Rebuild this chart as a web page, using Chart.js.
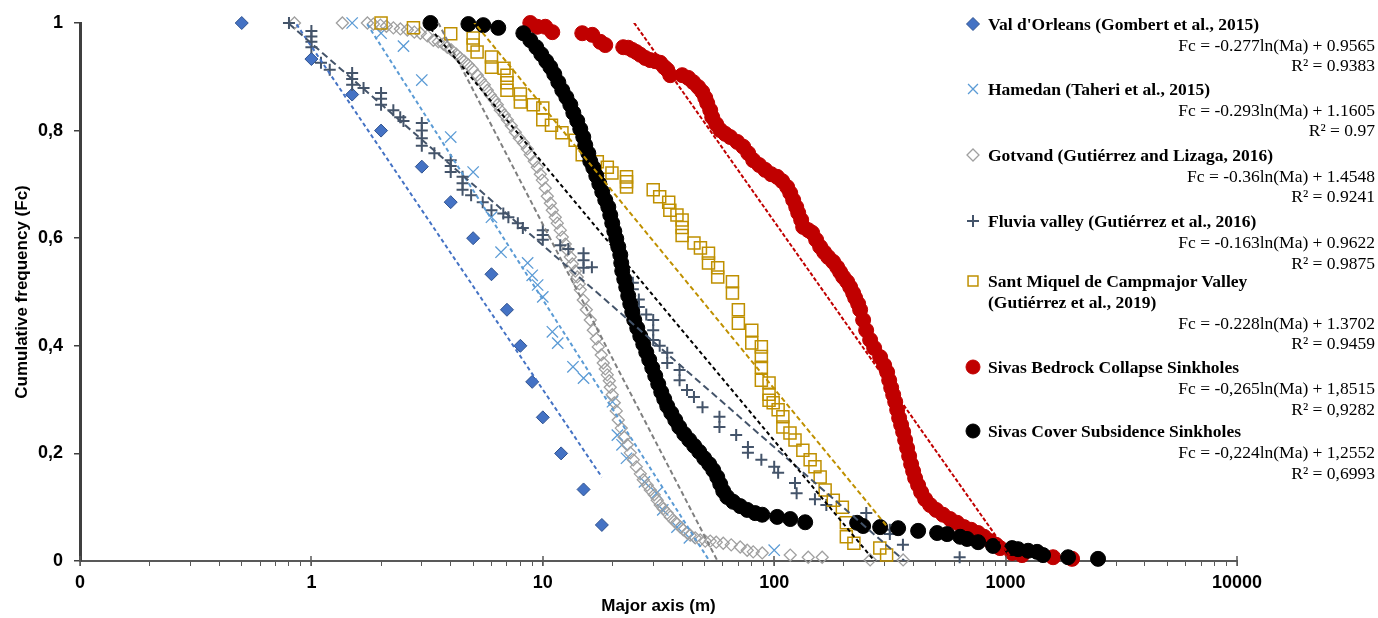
<!DOCTYPE html>
<html>
<head>
<meta charset="utf-8">
<script src="https://cdn.jsdelivr.net/npm/chart.js@4.4.1/dist/chart.umd.min.js"></script>
<style>
  body { margin: 0; background: #fff; }
  #wrap { position: relative; width: 1378px; height: 618px; }
  #legend div { position: absolute; font-family: 'Liberation Serif', 'Times New Roman', serif; font-size: 17.5px; line-height: 20px; color: #000; white-space: nowrap; }
  #legend .t { font-weight: bold; left: 988px; }
  #legend .e { right: 3px; text-align: right; }
</style>
</head>
<body>
<div id="wrap">
  <canvas id="chart"></canvas>
  <div id="legend"></div>
</div>
<script>
// ---- data: major axis (m) vs cumulative frequency ----
const valX = [0.5, 1, 1.5, 2, 3, 4, 5, 6, 7, 8, 9, 10, 12, 15, 18];
const valY = [1, 0.933, 0.867, 0.8, 0.733, 0.667, 0.6, 0.533, 0.467, 0.4, 0.333, 0.267, 0.2, 0.133, 0.067];

const hamX = [1.5, 2.0, 2.5, 3.0, 4.0, 5.0, 6.0, 6.6, 8.6, 9.0, 9.5, 10, 11, 11.6, 13.5, 15, 20, 21, 22, 23, 27.5, 31, 33, 38, 43, 100];
const hamY = [1.0, 0.981, 0.957, 0.894, 0.788, 0.723, 0.639, 0.574, 0.554, 0.531, 0.513, 0.491, 0.426, 0.405, 0.361, 0.340, 0.296, 0.234, 0.216, 0.191, 0.147, 0.126, 0.095, 0.063, 0.043, 0.020];

const gotX = [0.845, 1.361, 1.746, 1.853, 1.987, 2.109, 2.261, 2.424, 2.598, 2.786,
  2.957, 3.170, 3.365, 3.537, 3.717, 3.868, 4.025, 4.230, 4.402, 4.581,
  4.77, 4.961, 5.213, 5.370, 5.588, 5.758, 5.933, 6.173, 6.360, 6.553,
  6.820, 7.026, 7.311, 7.607, 7.915, 8.24, 8.573, 8.83, 9.191, 9.47,
  9.755, 9.95, 10.25, 10.46, 10.78, 10.99, 11.32, 11.55, 11.90, 12.14,
  12.51, 12.76, 13.15, 13.41, 13.82, 14.09, 14.38, 14.52, 14.96, 15.42,
  16.04, 16.53, 17.03, 17.37, 17.89, 18.25, 18.62, 18.99, 19.38, 19.57,
  19.96, 20.37, 20.77, 21.19, 21.83, 22.49, 23.17, 23.88, 24.60, 25.35,
  26.38, 27.18, 28.28, 29.14, 30.31, 31.23, 32.18, 33.15, 34.49, 35.54,
  36.99, 38.11, 39.26, 40.46, 42.09, 43.37, 45.58, 47.90, 50.35, 52.91,
  56.17, 60.23, 65.20, 71.31, 76.43, 81.15, 88.77, 117.3, 140.3, 161.2,
  259.8, 360.8];
const gotY = [1, 1, 1, 0.998, 0.996, 0.994, 0.991, 0.989, 0.987, 0.983,
  0.981, 0.976, 0.968, 0.965, 0.961, 0.955, 0.950, 0.942, 0.935, 0.929,
  0.922, 0.914, 0.903, 0.894, 0.885, 0.875, 0.866, 0.857, 0.848, 0.838,
  0.829, 0.820, 0.809, 0.797, 0.786, 0.777, 0.766, 0.755, 0.743, 0.732,
  0.719, 0.708, 0.693, 0.678, 0.665, 0.652, 0.639, 0.628, 0.615, 0.602,
  0.589, 0.578, 0.565, 0.552, 0.539, 0.528, 0.515, 0.504, 0.485, 0.467,
  0.448, 0.429, 0.413, 0.398, 0.383, 0.368, 0.357, 0.346, 0.335, 0.323,
  0.309, 0.294, 0.279, 0.262, 0.247, 0.230, 0.216, 0.201, 0.188, 0.175,
  0.162, 0.151, 0.141, 0.132, 0.123, 0.113, 0.104, 0.097, 0.089, 0.082,
  0.074, 0.069, 0.063, 0.058, 0.052, 0.048, 0.043, 0.039, 0.037, 0.037,
  0.035, 0.033, 0.030, 0.026, 0.020, 0.017, 0.015, 0.011, 0.007, 0.007,
  0.002, 0.002];

const fluX = [0.8, 1, 1, 1, 1, 1.1, 1.2, 1.5, 1.5, 1.5, 1.68, 2, 2, 2, 2.26, 2.42, 2.5, 3, 3, 3, 3, 3.4,
  4, 4, 4, 4.5, 4.5, 4.5, 4.9, 5.5, 6.0, 6.75, 7.1, 7.8, 8.2, 10, 10, 10, 11.9, 12.9, 15, 15, 15, 16.3,
  24.5, 24.5, 26, 26, 28, 30, 30, 30, 32, 34.5, 34.5, 39, 39, 42, 45, 49, 58, 58, 68.5, 77, 77, 88,
  100, 104, 123, 125, 150, 168, 250, 316, 316, 360, 633];
const fluY = [1.0, 0.985, 0.975, 0.965, 0.955, 0.926, 0.913, 0.907, 0.896, 0.885, 0.879, 0.870, 0.859, 0.848, 0.838, 0.825, 0.818, 0.814, 0.800, 0.786, 0.772, 0.758,
  0.745, 0.734, 0.723, 0.714, 0.702, 0.690, 0.680, 0.667, 0.652, 0.646, 0.639, 0.628, 0.619, 0.615, 0.606, 0.597, 0.587, 0.580, 0.572, 0.559, 0.545, 0.546,
  0.517, 0.505, 0.486, 0.472, 0.458, 0.448, 0.429, 0.411, 0.400, 0.387, 0.368, 0.355, 0.336, 0.318, 0.305, 0.286, 0.268, 0.249, 0.234, 0.212, 0.201, 0.188,
  0.175, 0.164, 0.145, 0.126, 0.115, 0.104, 0.089, 0.058, 0.050, 0.030, 0.007];

const smqX = [2.0, 2.76, 4.0, 5.0, 5.0, 5.2, 6.0, 6.0, 6.8, 7.0, 7.0, 7.0, 8.0, 8.0, 9.1, 10, 10, 10.9, 12.1, 13.8,
  14.8, 17.2, 19, 19.9, 23, 23, 23, 30, 32, 35, 35.4, 38, 40, 40, 40, 45, 48, 52, 52, 57, 57, 66, 66, 70, 70,
  80, 80, 88, 88, 88, 88, 95, 95, 95, 99, 104, 109, 109, 117, 123, 133, 143, 150, 158, 166, 180, 197, 205, 205, 221, 286, 306];
const smqY = [1.0, 0.991, 0.980, 0.972, 0.959, 0.946, 0.937, 0.918, 0.916, 0.903, 0.889, 0.875, 0.868, 0.853, 0.848, 0.842, 0.820, 0.810, 0.796, 0.782,
  0.755, 0.742, 0.732, 0.721, 0.714, 0.705, 0.695, 0.690, 0.677, 0.667, 0.652, 0.643, 0.634, 0.620, 0.605, 0.591, 0.582, 0.572, 0.554, 0.545, 0.528, 0.519, 0.498, 0.467, 0.442,
  0.429, 0.405, 0.398, 0.380, 0.360, 0.336, 0.331, 0.310, 0.299, 0.294, 0.281, 0.268, 0.249, 0.238, 0.225, 0.206, 0.188, 0.175, 0.156, 0.132, 0.113, 0.100, 0.071, 0.045, 0.033, 0.024, 0.011];

const bedX = [8.83, 9.47, 10.25, 10.99, 14.81, 16.36, 17.72, 18.62, 22.27, 23.40, 24.36, 25.35, 26.38, 27.72, 29.14, 30.62, 32.18, 33.48, 34.49, 35.54,
  40.06, 42.51, 44.68, 46.96, 48.87, 50.35, 51.36, 52.91, 53.98, 56.17, 58.46, 61.42, 64.55, 69.22, 73.47, 77.22, 81.15, 86.14, 91.44, 97.05,
  103.0, 108.3, 113.8, 117.3, 120.8, 124.5, 127.0, 130.8, 133.4, 140.3, 145.9, 151.8, 158.0, 164.4, 171.1, 179.8, 187.2, 192.8, 198.7, 206.7,
  213.0, 219.4, 223.8, 230.6, 235.2, 242.3, 249.7, 259.8, 270.4, 287.0, 298.7, 307.7, 314.0, 320.3, 326.7, 333.3, 340.0, 346.7, 353.7, 360.8,
  368.0, 375.4, 383.0, 390.6, 398.5, 406.5, 418.8, 431.5, 449.1, 471.9, 501.1, 537.0, 575.8, 617.3, 661.9, 709.6, 760.7, 807.5, 857.3, 910.0,
  946.7, 1067, 1178, 1604, 1938];
const bedY = [1.000, 0.993, 0.993, 0.983, 0.981, 0.978, 0.965, 0.959, 0.955, 0.954, 0.950, 0.946, 0.941, 0.935, 0.931, 0.929, 0.926, 0.918, 0.913, 0.903,
  0.903, 0.898, 0.890, 0.881, 0.872, 0.861, 0.851, 0.838, 0.825, 0.812, 0.801, 0.794, 0.788, 0.779, 0.770, 0.758, 0.745, 0.736, 0.727, 0.719,
  0.714, 0.706, 0.695, 0.684, 0.671, 0.658, 0.647, 0.634, 0.621, 0.615, 0.610, 0.597, 0.584, 0.574, 0.565, 0.556, 0.546, 0.537, 0.528, 0.519,
  0.509, 0.498, 0.489, 0.478, 0.467, 0.448, 0.429, 0.411, 0.396, 0.379, 0.364, 0.351, 0.336, 0.322, 0.309, 0.296, 0.281, 0.266, 0.253, 0.240,
  0.225, 0.210, 0.195, 0.180, 0.167, 0.154, 0.141, 0.128, 0.115, 0.104, 0.095, 0.086, 0.078, 0.071, 0.063, 0.058, 0.052, 0.045, 0.037, 0.030,
  0.024, 0.015, 0.011, 0.007, 0.004];

const covX = [3.27, 4.77, 5.53, 6.42, 8.24, 8.83, 9.37, 9.85, 10.35, 10.78, 11.21, 11.67, 12.14, 12.64,
  13.15, 13.55, 14.09, 14.52, 14.96, 15.26, 15.73, 16.04, 16.53, 17.03, 17.55, 18.07, 18.62, 19.19, 19.57, 19.96, 20.37, 20.77, 21.19, 21.62,
  21.83, 22.05, 22.49, 22.94, 23.40, 23.88, 24.36, 24.85, 25.60, 26.38, 27.18, 28.00, 28.84, 29.72, 30.62, 31.54, 32.50, 33.48, 34.49, 35.91,
  37.37, 38.88, 40.86, 42.94, 45.11, 47.43, 49.84, 52.39, 54.51, 56.74, 58.46, 60.23, 62.66, 66.52, 71.31, 76.43, 82.77, 88.77,
  103.0, 117.3, 136.1, 228.3, 242.3, 287.0, 343.2, 418.8, 506.0, 558.8, 636.1, 681.7, 760.7, 883.1, 1067, 1132, 1251, 1368, 1452, 1862, 2509];
const covY = [1.000, 0.998, 0.996, 0.991, 0.981, 0.968, 0.955, 0.942, 0.929, 0.918, 0.905, 0.890, 0.875, 0.862,
  0.848, 0.833, 0.818, 0.803, 0.788, 0.773, 0.758, 0.743, 0.731, 0.716, 0.701, 0.686, 0.671, 0.658, 0.643, 0.628, 0.613, 0.599, 0.584, 0.569,
  0.554, 0.539, 0.524, 0.509, 0.493, 0.478, 0.463, 0.448, 0.433, 0.418, 0.403, 0.388, 0.374, 0.359, 0.344, 0.329, 0.314, 0.301, 0.288, 0.275,
  0.262, 0.249, 0.236, 0.225, 0.214, 0.203, 0.191, 0.180, 0.169, 0.156, 0.143, 0.130, 0.119, 0.110, 0.102, 0.095, 0.089, 0.086,
  0.082, 0.078, 0.072, 0.071, 0.065, 0.063, 0.061, 0.056, 0.052, 0.050, 0.045, 0.041, 0.035, 0.028, 0.024, 0.022, 0.019, 0.017, 0.011, 0.007, 0.004];

// trendline coefficients as printed: Fc = a ln(Ma) + b
const trendA = [-0.277, -0.293, -0.36, -0.163, -0.228, -0.265, -0.224];
const trendB = [0.9565, 1.1605, 1.4548, 0.9622, 1.3702, 1.8515, 1.2552];

const legendNames = ["Val d'Orleans (Gombert et al., 2015)", "Hamedan (Taheri et al., 2015)",
  "Gotvand (Gutiérrez and Lizaga, 2016)", "Fluvia valley (Gutiérrez et al., 2016)",
  "Sant Miquel de Campmajor Valley|(Gutiérrez et al., 2019)", "Sivas Bedrock Collapse Sinkholes",
  "Sivas Cover Subsidence Sinkholes"];
const legendEqs = ["Fc = -0.277ln(Ma) + 0.9565", "Fc = -0.293ln(Ma) + 1.1605", "Fc = -0.36ln(Ma) + 1.4548",
  "Fc = -0.163ln(Ma) + 0.9622", "Fc = -0.228ln(Ma) + 1.3702", "Fc = -0,265ln(Ma) + 1,8515", "Fc = -0,224ln(Ma) + 1,2552"];
const legendR2 = ["R² = 0.9383", "R² = 0.97", "R² = 0.9241", "R² = 0.9875", "R² = 0.9459", "R² = 0,9282", "R² = 0,6993"];

const xTicks = [];
for (let e = -1; e <= 3; e++) for (let k = 1; k <= 9; k++) xTicks.push(+(k * Math.pow(10, e)).toPrecision(3));
xTicks.push(10000);

// ---- styling ----
const seriesX = [valX, hamX, gotX, fluX, smqX, bedX, covX];
const seriesY = [valY, hamY, gotY, fluY, smqY, bedY, covY];
const markers = [
  { style: 'rectRot', r: 6.5, bg: '#4472C4', border: '#2F528F', bw: 1 },
  { style: 'crossRot', r: 8, bg: 'rgba(0,0,0,0)', border: '#5B9BD5', bw: 1.3 },
  { style: 'rectRot', r: 6, bg: 'rgba(255,255,255,0)', border: '#A0A0A0', bw: 1.3 },
  { style: 'cross', r: 6, bg: 'rgba(0,0,0,0)', border: '#44546A', bw: 2 },
  { style: 'rect', r: 8.5, bg: 'rgba(255,255,255,0)', border: '#BF9000', bw: 1.5 },
  { style: 'circle', r: 7.5, bg: '#C00000', border: '#C00000', bw: 1 },
  { style: 'circle', r: 7.5, bg: '#000000', border: '#000000', bw: 1 }
];
const trendColors = ['#4472C4', '#5B9BD5', '#7F7F7F', '#44546A', '#BF9000', '#C00000', '#000000'];
const trendDash = [[4, 3], [4, 3], [5, 3], [7, 4], [5, 3], [4, 2], [4, 3]];

const legendTitleY = [24, 89, 155, 221, 281, 367, 431];
const legendEqY = [45, 110, 176, 242, 323, 388, 452];
const legendR2Y = [65, 130, 196, 263, 343, 409, 473];
const legendMarkerX = 973;

const datasets = [];
seriesX.forEach((xs, i) => {
  const m = markers[i];
  datasets.push({
    data: xs.map((x, j) => ({ x: x, y: seriesY[i][j] })),
    showLine: false,
    pointStyle: m.style,
    pointRadius: m.r,
    pointBackgroundColor: m.bg,
    pointBorderColor: m.border,
    pointBorderWidth: m.bw,
    clip: false,
    order: 20 - i
  });
});
seriesX.forEach((xs, i) => {
  const lo = Math.min(...xs), hi = Math.max(...xs);
  datasets.push({
    data: [lo, hi].map(x => ({ x: x, y: trendA[i] * Math.log(x) + trendB[i] })),
    showLine: true,
    pointRadius: 0,
    borderColor: trendColors[i],
    borderWidth: 2,
    borderDash: trendDash[i],
    fill: false,
    clip: 0,
    order: 7 - i
  });
});

// legend markers and crossing major ticks on the x axis
const extras = {
  id: 'extras',
  afterDraw(chart) {
    const ctx = chart.ctx;
    markers.forEach((m, i) => {
      const r = Math.min(m.r, 7);
      ctx.save();
      ctx.fillStyle = m.bg;
      ctx.strokeStyle = m.border;
      ctx.lineWidth = m.bw;
      Chart.helpers.drawPoint(ctx, { pointStyle: m.style, radius: r, rotation: 0, borderWidth: m.bw }, legendMarkerX, legendTitleY[i]);
      ctx.restore();
    });
    const xs = chart.scales.x, bottom = chart.chartArea.bottom;
    ctx.save();
    ctx.strokeStyle = '#595959';
    ctx.lineWidth = 1.5;
    [0.1, 1, 10, 100, 1000, 10000].forEach(v => {
      const px = Math.round(xs.getPixelForValue(v));
      ctx.beginPath();
      ctx.moveTo(px, bottom - 5);
      ctx.lineTo(px, bottom + 5);
      ctx.stroke();
    });
    ctx.restore();
  }
};

new Chart(document.getElementById('chart'), {
  type: 'scatter',
  data: { datasets },
  options: {
    responsive: true,
    maintainAspectRatio: false,
    animation: false,
    events: [],
    layout: { padding: { left: 0, right: 141, top: 23, bottom: 0 } },
    plugins: { legend: { display: false }, tooltip: { enabled: false } },
    scales: {
      x: {
        type: 'logarithmic',
        min: 0.1,
        max: 10000,
        afterBuildTicks: s => { s.ticks = xTicks.map(v => ({ value: v })); },
        afterFit: s => { s.height = 57; },
        border: { display: true, color: '#595959', width: 2 },
        grid: { drawOnChartArea: false, drawTicks: true, tickLength: 5, color: '#595959', lineWidth: 1 },
        ticks: {
          autoSkip: false,
          maxRotation: 0,
          padding: 6,
          color: '#000',
          font: { family: "'Liberation Sans', Arial, sans-serif", size: 18, weight: 'bold' },
          callback: v => {
            const l = Math.log10(v);
            if (Math.abs(l - Math.round(l)) > 1e-6) return '';
            return v < 1 ? '0' : String(Math.round(v));
          }
        },
        title: {
          display: true,
          text: 'Major axis (m)',
          color: '#000',
          padding: { top: 0, bottom: 1 },
          font: { family: "'Liberation Sans', Arial, sans-serif", size: 17, weight: 'bold' }
        }
      },
      y: {
        min: 0,
        max: 1,
        afterFit: s => { s.width = 80; },
        border: { display: true, color: '#3F3F3F', width: 3 },
        grid: { drawOnChartArea: false, drawTicks: true, tickLength: 6, color: '#3F3F3F', lineWidth: 1.5 },
        ticks: {
          stepSize: 0.2,
          padding: 11,
          color: '#000',
          font: { family: "'Liberation Sans', Arial, sans-serif", size: 18, weight: 'bold' },
          callback: v => (v === 0 || v === 1) ? String(v) : v.toFixed(1).replace('.', ',')
        },
        title: {
          display: true,
          text: 'Cumulative frequency (Fc)',
          color: '#000',
          padding: { top: 12, bottom: 0 },
          font: { family: "'Liberation Sans', Arial, sans-serif", size: 17, weight: 'bold' }
        }
      }
    }
  },
  plugins: [extras]
});

// legend text
const legend = document.getElementById('legend');
function addLine(cls, text, cy) {
  const d = document.createElement('div');
  d.className = cls;
  d.textContent = text;
  d.style.top = (cy - 10) + 'px';
  legend.appendChild(d);
}
legendNames.forEach((name, i) => {
  const parts = name.split('|');
  addLine('t', parts[0], legendTitleY[i]);
  if (parts[1]) addLine('t', parts[1], legendTitleY[i] + 21);
  addLine('e', legendEqs[i], legendEqY[i]);
  addLine('e', legendR2[i], legendR2Y[i]);
});
</script>
</body>
</html>
